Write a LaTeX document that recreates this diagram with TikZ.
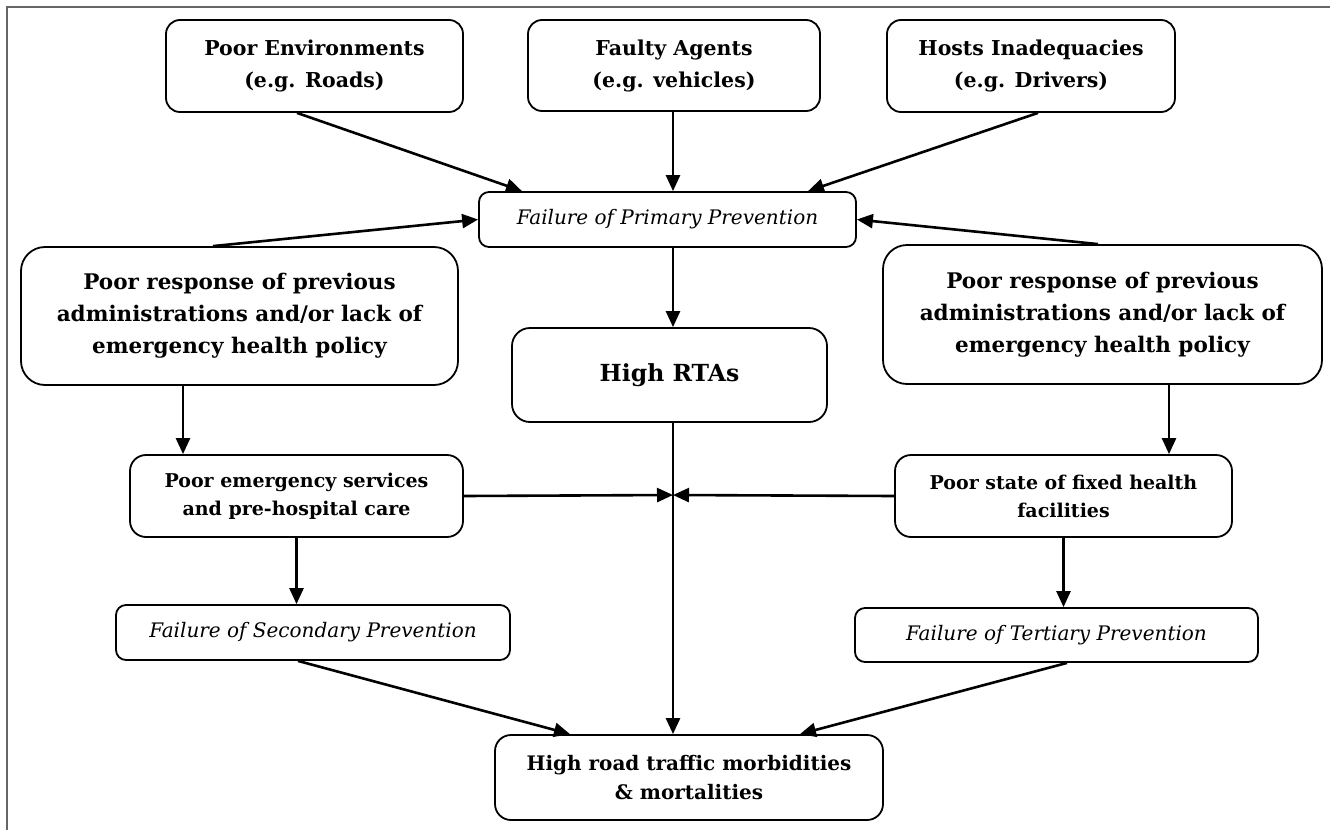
\documentclass[tikz,border=0pt]{standalone}
\usepackage{fontspec}
\setmainfont{DejaVu Serif}
\usetikzlibrary{arrows.meta}
\begin{document}
\begin{tikzpicture}[x=1pt,y=-1pt,
  box/.style={draw=black, line width=1.8pt, rounded corners=14pt, align=center, inner sep=0pt, fill=white},
  topbox/.style={box, font=\bfseries\fontsize{20.5}{32}\selectfont},
  respbox/.style={box, rounded corners=24pt, font=\bfseries\fontsize{21.5}{32}\selectfont},
  midbox/.style={box, rounded corners=16pt, font=\bfseries\fontsize{19}{28}\selectfont},
  failbox/.style={box, rounded corners=10pt, font=\itshape\fontsize{20}{24}\selectfont},
  conn/.style={line width=2.6pt, -{Triangle[length=16pt,width=14pt]}}
]
\useasboundingbox[fill=white] (0,0) rectangle (1330,830);
\draw[gray!80!black, line width=2pt] (1330,7) -- (7,7) -- (7,830);

\node[topbox, minimum width=297pt, minimum height=92pt] (env) at (314.5,66) {Poor Environments\\(e.g. Roads)};
\node[topbox, minimum width=292pt, minimum height=91pt] (agent) at (674,65.5) {Faulty Agents\\(e.g. vehicles)};
\node[topbox, minimum width=288pt, minimum height=92pt] (host) at (1031,66) {Hosts Inadequacies\\(e.g. Drivers)};
\node[failbox, minimum width=377pt, minimum height=55pt] (primary) at (667.5,219.5) {Failure of Primary Prevention};
\node[respbox, minimum width=437pt, minimum height=138pt] (respL) at (239.5,316) {Poor response of previous\\administrations and/or lack of\\emergency health policy};
\node[respbox, minimum width=439pt, minimum height=139pt] (respR) at (1102.5,314.5) {Poor response of previous\\administrations and/or lack of\\emergency health policy};
\node[box, rounded corners=18pt, font=\bfseries\fontsize{23.5}{28}\selectfont, minimum width=315pt, minimum height=94pt] (rta) at (669.5,375) {High RTAs};
\node[midbox, minimum width=333pt, minimum height=82pt] (emerg) at (296.5,496) {Poor emergency services\\and pre-hospital care};
\node[midbox, minimum width=337pt, minimum height=82pt] (state) at (1063.5,496) {Poor state of fixed health\\facilities};
\node[failbox, minimum width=394pt, minimum height=55pt] (sec) at (313,632.5) {Failure of Secondary Prevention};
\node[failbox, minimum width=403pt, minimum height=54pt] (ter) at (1056.5,635) {Failure of Tertiary Prevention};
\node[midbox, font=\bfseries\fontsize{20}{29}\selectfont, minimum width=388pt, minimum height=85pt] (out) at (689,777.5) {High road traffic morbidities\\\& mortalities};

\coordinate (j) at (673,495);

\draw[conn] ([xshift=-17.5pt]env.south) -- ([xshift=-145.5pt]primary.north);
\draw[conn] (agent.south -| j) -- (primary.north -| j);
\draw[conn] ([xshift=7pt]host.south) -- ([xshift=140.5pt]primary.north);
\draw[conn] ([xshift=-26.5pt]respL.north) -- (primary.west);
\draw[conn] ([xshift=-4.5pt]respR.north) -- (primary.east);
\draw[conn] (primary.south -| j) -- (rta.north -| j);
\draw[conn] (rta.south -| j) -- (out.north -| j);
\draw[conn] ([xshift=-56.5pt]respL.south) -- ([xshift=-56.5pt]respL.south |- emerg.north);
\draw[conn] ([xshift=66.5pt]respR.south) -- ([xshift=66.5pt]respR.south |- state.north);
\draw[conn] (emerg.east) -- (j);
\draw[conn] (state.west) -- (j);
\draw[conn] (emerg.south) -- (emerg.south |- sec.north);
\draw[conn] (state.south) -- (state.south |- ter.north);
\draw[conn] ([xshift=-15pt]sec.south) -- ([xshift=-119pt]out.north);
\draw[conn] ([xshift=10.5pt]ter.south) -- ([xshift=111pt]out.north);
\end{tikzpicture}
\end{document}
